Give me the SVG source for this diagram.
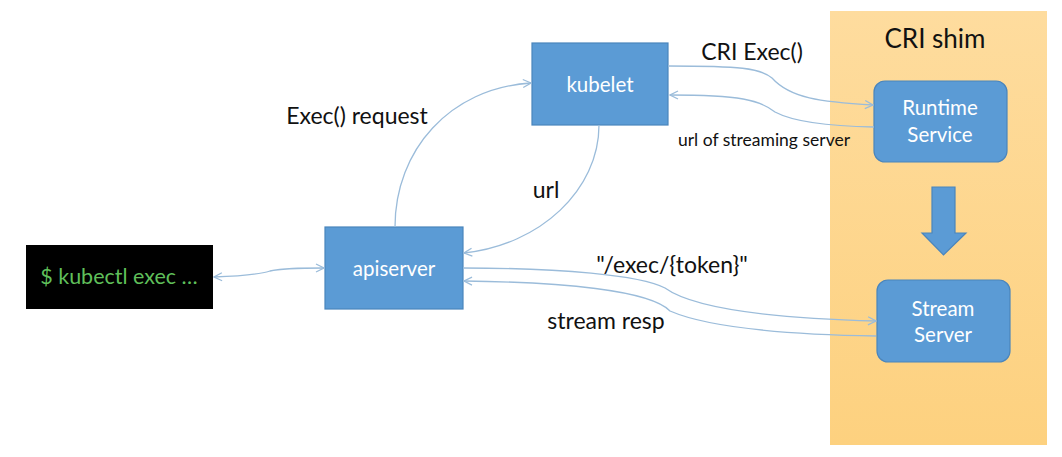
<svg xmlns="http://www.w3.org/2000/svg" width="1062" height="457" viewBox="0 0 1062 457">
<defs>
<linearGradient id="shim" x1="0" y1="0" x2="0" y2="1">
<stop offset="0" stop-color="#FEDC9E"/>
<stop offset="1" stop-color="#FDD17F"/>
</linearGradient>
<marker id="ah" viewBox="0 0 10 10" refX="9" refY="5" markerWidth="10" markerHeight="10" markerUnits="userSpaceOnUse" orient="auto-start-reverse">
<path d="M1,1 L9,5 L1,9" fill="none" stroke="#9BBCDA" stroke-width="1.3"/>
</marker>
<style>
.box{fill:#5B9BD5;stroke:#4A85BC;stroke-width:1.2}
.nt{font-family:Lato,"Open Sans",sans-serif;font-size:20.5px;fill:#FFFFFF;text-anchor:middle}
.lbl{font-family:Lato,"Open Sans",sans-serif;font-size:23px;fill:#111111;text-anchor:middle}
.sm{font-family:Lato,"Open Sans",sans-serif;font-size:17.5px;fill:#111111;text-anchor:middle}
.c{fill:none;stroke:#9BBCDA;stroke-width:1.3}
</style>
</defs>
<rect width="1062" height="457" fill="#FFFFFF"/>
<g id="cri-shim">
<rect x="830" y="11" width="217" height="434" fill="url(#shim)"/>
<text x="935" y="48" font-family="Lato,'Open Sans',sans-serif" font-size="26" fill="#111" text-anchor="middle">CRI shim</text>
</g>
<g id="kubectl">
<rect x="26" y="245" width="187" height="64" fill="#000000"/>
<text x="119" y="284" font-family="Lato,'Open Sans',sans-serif" font-size="21.5" fill="#5FBF5A" text-anchor="middle">$ kubectl exec …</text>
</g>
<g id="apiserver">
<rect class="box" x="325" y="227" width="138" height="82"/>
<text class="nt" x="394" y="276">apiserver</text>
</g>
<g id="kubelet">
<rect class="box" x="532" y="43" width="136" height="82"/>
<text class="nt" x="600" y="92">kubelet</text>
</g>
<g id="runtime-service">
<rect class="box" x="874" y="81" width="133" height="81" rx="11"/>
<text class="nt" x="940" y="115">Runtime</text>
<text class="nt" x="940" y="142">Service</text>
</g>
<g id="stream-server">
<rect class="box" x="877" y="280" width="133" height="82" rx="11"/>
<text class="nt" x="943" y="316">Stream</text>
<text class="nt" x="943" y="342">Server</text>
</g>
<g id="flow-arrow">
<polygon class="box" points="932,187 955,187 955,233 966,233 943.5,255 922,233 932,233"/>
</g>
<g id="connectors">
<path class="c" d="M214,277 C245,276 260,274 270,271 C282,268 300,268 324,268" marker-start="url(#ah)" marker-end="url(#ah)"/>
<path class="c" d="M395,227 C395,150 450,88 531,83" marker-end="url(#ah)"/>
<path class="c" d="M599,125 C599,190 540,245 464,253" marker-end="url(#ah)"/>
<path class="c" d="M668,66 C740,66 760,68 772,78 C790,98 820,102 873,105" marker-end="url(#ah)"/>
<path class="c" d="M874,127 C820,126 790,120 775,112 C760,100 740,95 670,95" marker-end="url(#ah)"/>
<path class="c" d="M463,268 C560,268 640,275 665,288 C690,306 760,318 876,321" marker-end="url(#ah)"/>
<path class="c" d="M876,336 C760,334 700,324 670,311 C650,290 560,282 464,281" marker-end="url(#ah)"/>
</g>
<g id="labels">
<text class="lbl" x="357" y="124">Exec() request</text>
<text class="lbl" x="546" y="198">url</text>
<text class="lbl" x="752" y="60">CRI Exec()</text>
<text class="sm" x="764" y="146">url of streaming server</text>
<text class="lbl" x="672" y="273">"/exec/{token}"</text>
<text class="lbl" x="606" y="329">stream resp</text>
</g>
</svg>
